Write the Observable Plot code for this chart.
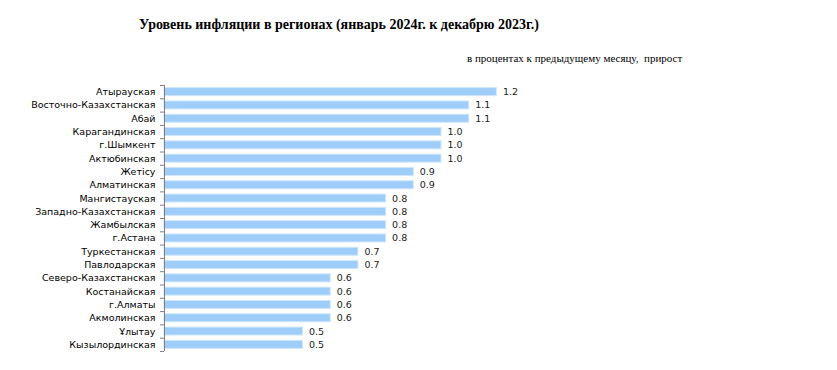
<!DOCTYPE html>
<html>
<head>
<meta charset="utf-8">
<script src="https://cdn.jsdelivr.net/npm/d3@7"></script>
<script src="https://cdn.jsdelivr.net/npm/@observablehq/plot@0.6"></script>
<style>
  html, body { margin: 0; padding: 0; background: #fff; }
  #wrap { position: relative; width: 837px; height: 370px; overflow: hidden; }
  #title { position: absolute; left: 139px; top: 17px; font: bold 14px "Liberation Serif", "Times New Roman", serif; color: #000; white-space: nowrap; }
  #subtitle { position: absolute; left: 467px; top: 52px; font: 11px "Liberation Serif", "Times New Roman", serif; color: #000; white-space: nowrap; }
  #chart { position: absolute; left: 0; top: 0; }
</style>
</head>
<body>
<div id="wrap">
  <div id="chart"></div>
  <div id="title">Уровень инфляции в регионах (январь 2024г. к декабрю 2023г.)</div>
  <div id="subtitle">в процентах к предыдущему месяцу,&nbsp; прирост</div>
</div>
<script>
const regions = [
  "Атырауская", "Восточно-Казахстанская", "Абай", "Карагандинская", "г.Шымкент",
  "Актюбинская", "Жетісу", "Алматинская", "Мангистауская", "Западно-Казахстанская",
  "Жамбылская", "г.Астана", "Туркестанская", "Павлодарская", "Северо-Казахстанская",
  "Костанайская", "г.Алматы", "Акмолинская", "Ұлытау", "Кызылординская"
];
const values = [
  1.2, 1.1, 1.1, 1.0, 1.0,
  1.0, 0.9, 0.9, 0.8, 0.8,
  0.8, 0.8, 0.7, 0.7, 0.6,
  0.6, 0.6, 0.6, 0.5, 0.5
];

const data = regions.map((r, i) => ({region: r, value: values[i]}));

const W = 837, H = 370;
const mLeft = 164, mRight = 119, mTop = 85, mBottom = 19;
const step = (H - mTop - mBottom) / regions.length;
const pxPerUnit = (W - mLeft - mRight) / 2;
const tickLen = 4 / pxPerUnit;
const font = "Verdana, 'DejaVu Sans', sans-serif";

const chart = Plot.plot({
  width: W,
  height: H,
  marginLeft: mLeft,
  marginRight: mRight,
  marginTop: mTop,
  marginBottom: mBottom,
  style: {fontFamily: font, fontSize: "9.5px", color: "#000", background: "transparent"},
  x: {domain: [0, 2], axis: null},
  y: {domain: regions, paddingInner: 0.4, paddingOuter: 0.2, round: false, label: null},
  marks: [
    Plot.barX(data, {x: "value", y: "region", fill: "#9ecdf9", stroke: "#cfe6fc", strokeWidth: 1}),
    Plot.ruleX([0], {stroke: "#7f7f7f", strokeWidth: 1}),
    Plot.ruleY(regions, {y: d => d, x1: -tickLen, x2: 0, dy: -step / 2, stroke: "#7f7f7f"}),
    Plot.ruleY(regions.slice(-1), {y: d => d, x1: -tickLen, x2: 0, dy: step / 2, stroke: "#7f7f7f"}),
    Plot.axisY({tickSize: 0, tickPadding: 9, fontSize: "9.5px", fill: "#000"}),
    Plot.text(data, {x: "value", y: "region", text: d => d3.format(".1f")(d.value), dx: 6, textAnchor: "start", fontSize: "9.5px", fill: "#222"})
  ]
});
document.getElementById("chart").appendChild(chart);
</script>
</body>
</html>
